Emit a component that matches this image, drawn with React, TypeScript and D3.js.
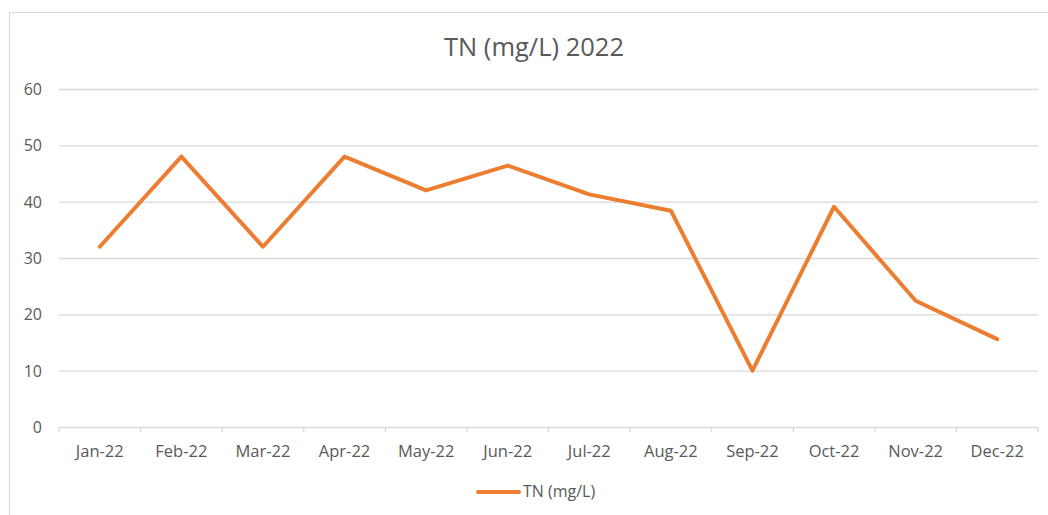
import * as d3 from "d3";

const months = ["Jan-22", "Feb-22", "Mar-22", "Apr-22", "May-22", "Jun-22", "Jul-22", "Aug-22", "Sep-22", "Oct-22", "Nov-22", "Dec-22"];
const tnValues = [32, 48, 32, 48, 42, 46.4, 41.3, 38.4, 10, 39.1, 22.4, 15.6];
const yTicks = [0, 10, 20, 30, 40, 50, 60];

const width = 1048;
const height = 515;
const plot = { left: 59, right: 1038, top: 89, bottom: 427 };
const orange = "#ED7D31";
const textColor = "#595959";
const font = "'Open Sans', 'Liberation Sans', sans-serif";

export default function App() {
  const x = d3.scaleBand<string>().domain(months).range([plot.left, plot.right]);
  const y = d3.scaleLinear().domain([0, 60]).range([plot.bottom, plot.top]);
  const line = d3
    .line<number>()
    .x((_, i) => (x(months[i]) ?? 0) + x.bandwidth() / 2)
    .y((d) => y(d));
  const tickXs = [...months.map((m) => x(m) ?? 0), plot.right];

  return (
    <svg
      width={width}
      height={height}
      style={{ position: "absolute", left: 0, top: 0, background: "#fff" }}
      fontFamily={font}
    >
      <rect x={9.5} y={12.5} width={width} height={height} fill="#fff" stroke="#d9d9d9" />
      <text x={534} y={56} textAnchor="middle" fontSize={25.5} fill={textColor}>
        TN (mg/L) 2022
      </text>
      {yTicks.map((t) => (
        <g key={t}>
          {t > 0 && (
            <line x1={plot.left} x2={plot.right} y1={y(t) + 0.5} y2={y(t) + 0.5} stroke="#d9d9d9" strokeWidth={1.3} />
          )}
          <text x={42} y={y(t) + 6} textAnchor="end" fontSize={16} fill={textColor}>
            {t}
          </text>
        </g>
      ))}
      <line x1={plot.left} x2={plot.right} y1={plot.bottom + 0.5} y2={plot.bottom + 0.5} stroke="#d9d9d9" strokeWidth={1.3} />
      {tickXs.map((tx, i) => (
        <line key={i} x1={tx} x2={tx} y1={plot.bottom} y2={plot.bottom + 5} stroke="#d9d9d9" strokeWidth={1.3} />
      ))}
      {months.map((m) => (
        <text key={m} x={(x(m) ?? 0) + x.bandwidth() / 2} y={457} textAnchor="middle" fontSize={16.5} fill={textColor}>
          {m}
        </text>
      ))}
      <path d={line(tnValues) ?? undefined} fill="none" stroke={orange} strokeWidth={4} strokeLinejoin="round" strokeLinecap="round" />
      <line x1={478} x2={519} y1={492} y2={492} stroke={orange} strokeWidth={4} strokeLinecap="round" />
      <text x={523} y={497} fontSize={16} fill={textColor}>
        TN (mg/L)
      </text>
    </svg>
  );
}
